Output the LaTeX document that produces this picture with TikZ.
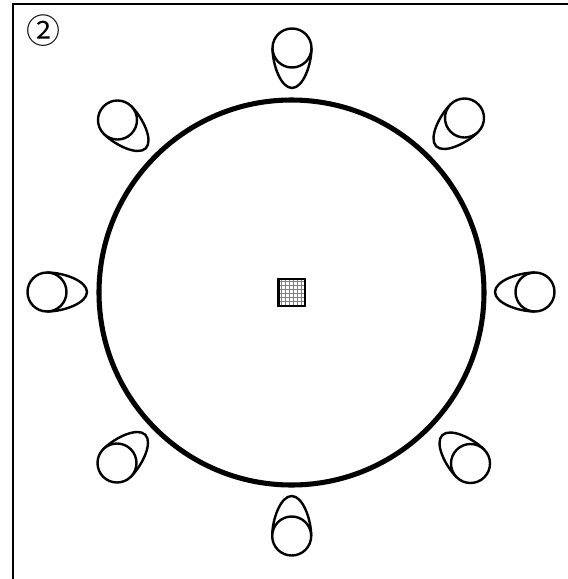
\documentclass[tikz,border=0pt]{standalone}
\usepackage{fontspec}
\newfontfamily\cjk{Noto Sans CJK JP}
\begin{document}
\begin{tikzpicture}[x=.75pt,y=-.75pt,
    Glyph/.style={draw=black,line width=1.8pt,fill=white},
    Wheel/.style={draw=black,line width=3.8pt},
    Frame/.style={draw=black,line width=1.5pt}]
    \useasboundingbox (0,0) rectangle (568,579);
    \draw[Frame] (12.5,579) -- (12.5,3.5) -- (568,3.5);
    \node[font=\cjk\fontsize{25.5}{26}\selectfont,inner sep=0pt] (num) at (43.5,31) {②};
    \draw[Wheel] (291.5,292.5) circle (192.5);
    \foreach \xx/\yy/\aa in {47/292/0,117.5/120/-45,292/48/-90,464.5/118/-135,535/292/180,470.5/463.5/135,291.7/536/90,117/463/45}{
      \begin{scope}[shift={(\xx,\yy)},rotate=\aa]
        \draw[Glyph] (0,19.5) .. controls (17,19.5) and (40,11) .. (40,0)
          .. controls (40,-11) and (17,-19.5) .. (0,-19.5);
        \draw[Glyph] (0,0) circle (19.5);
      \end{scope}
    }
    \fill[white] (278,278.5) rectangle (305,306);
    \foreach \pp in {281.5,285.5,...,303}{
      \draw[black!50,line width=1.2pt] (\pp,279) -- (\pp,306);
      \draw[black!50,line width=1.2pt] (278,\pp) -- (305,\pp);
    }
    \draw[black,line width=2.2pt] (278.5,279) rectangle (305,306);
  \end{tikzpicture}
\end{document}
